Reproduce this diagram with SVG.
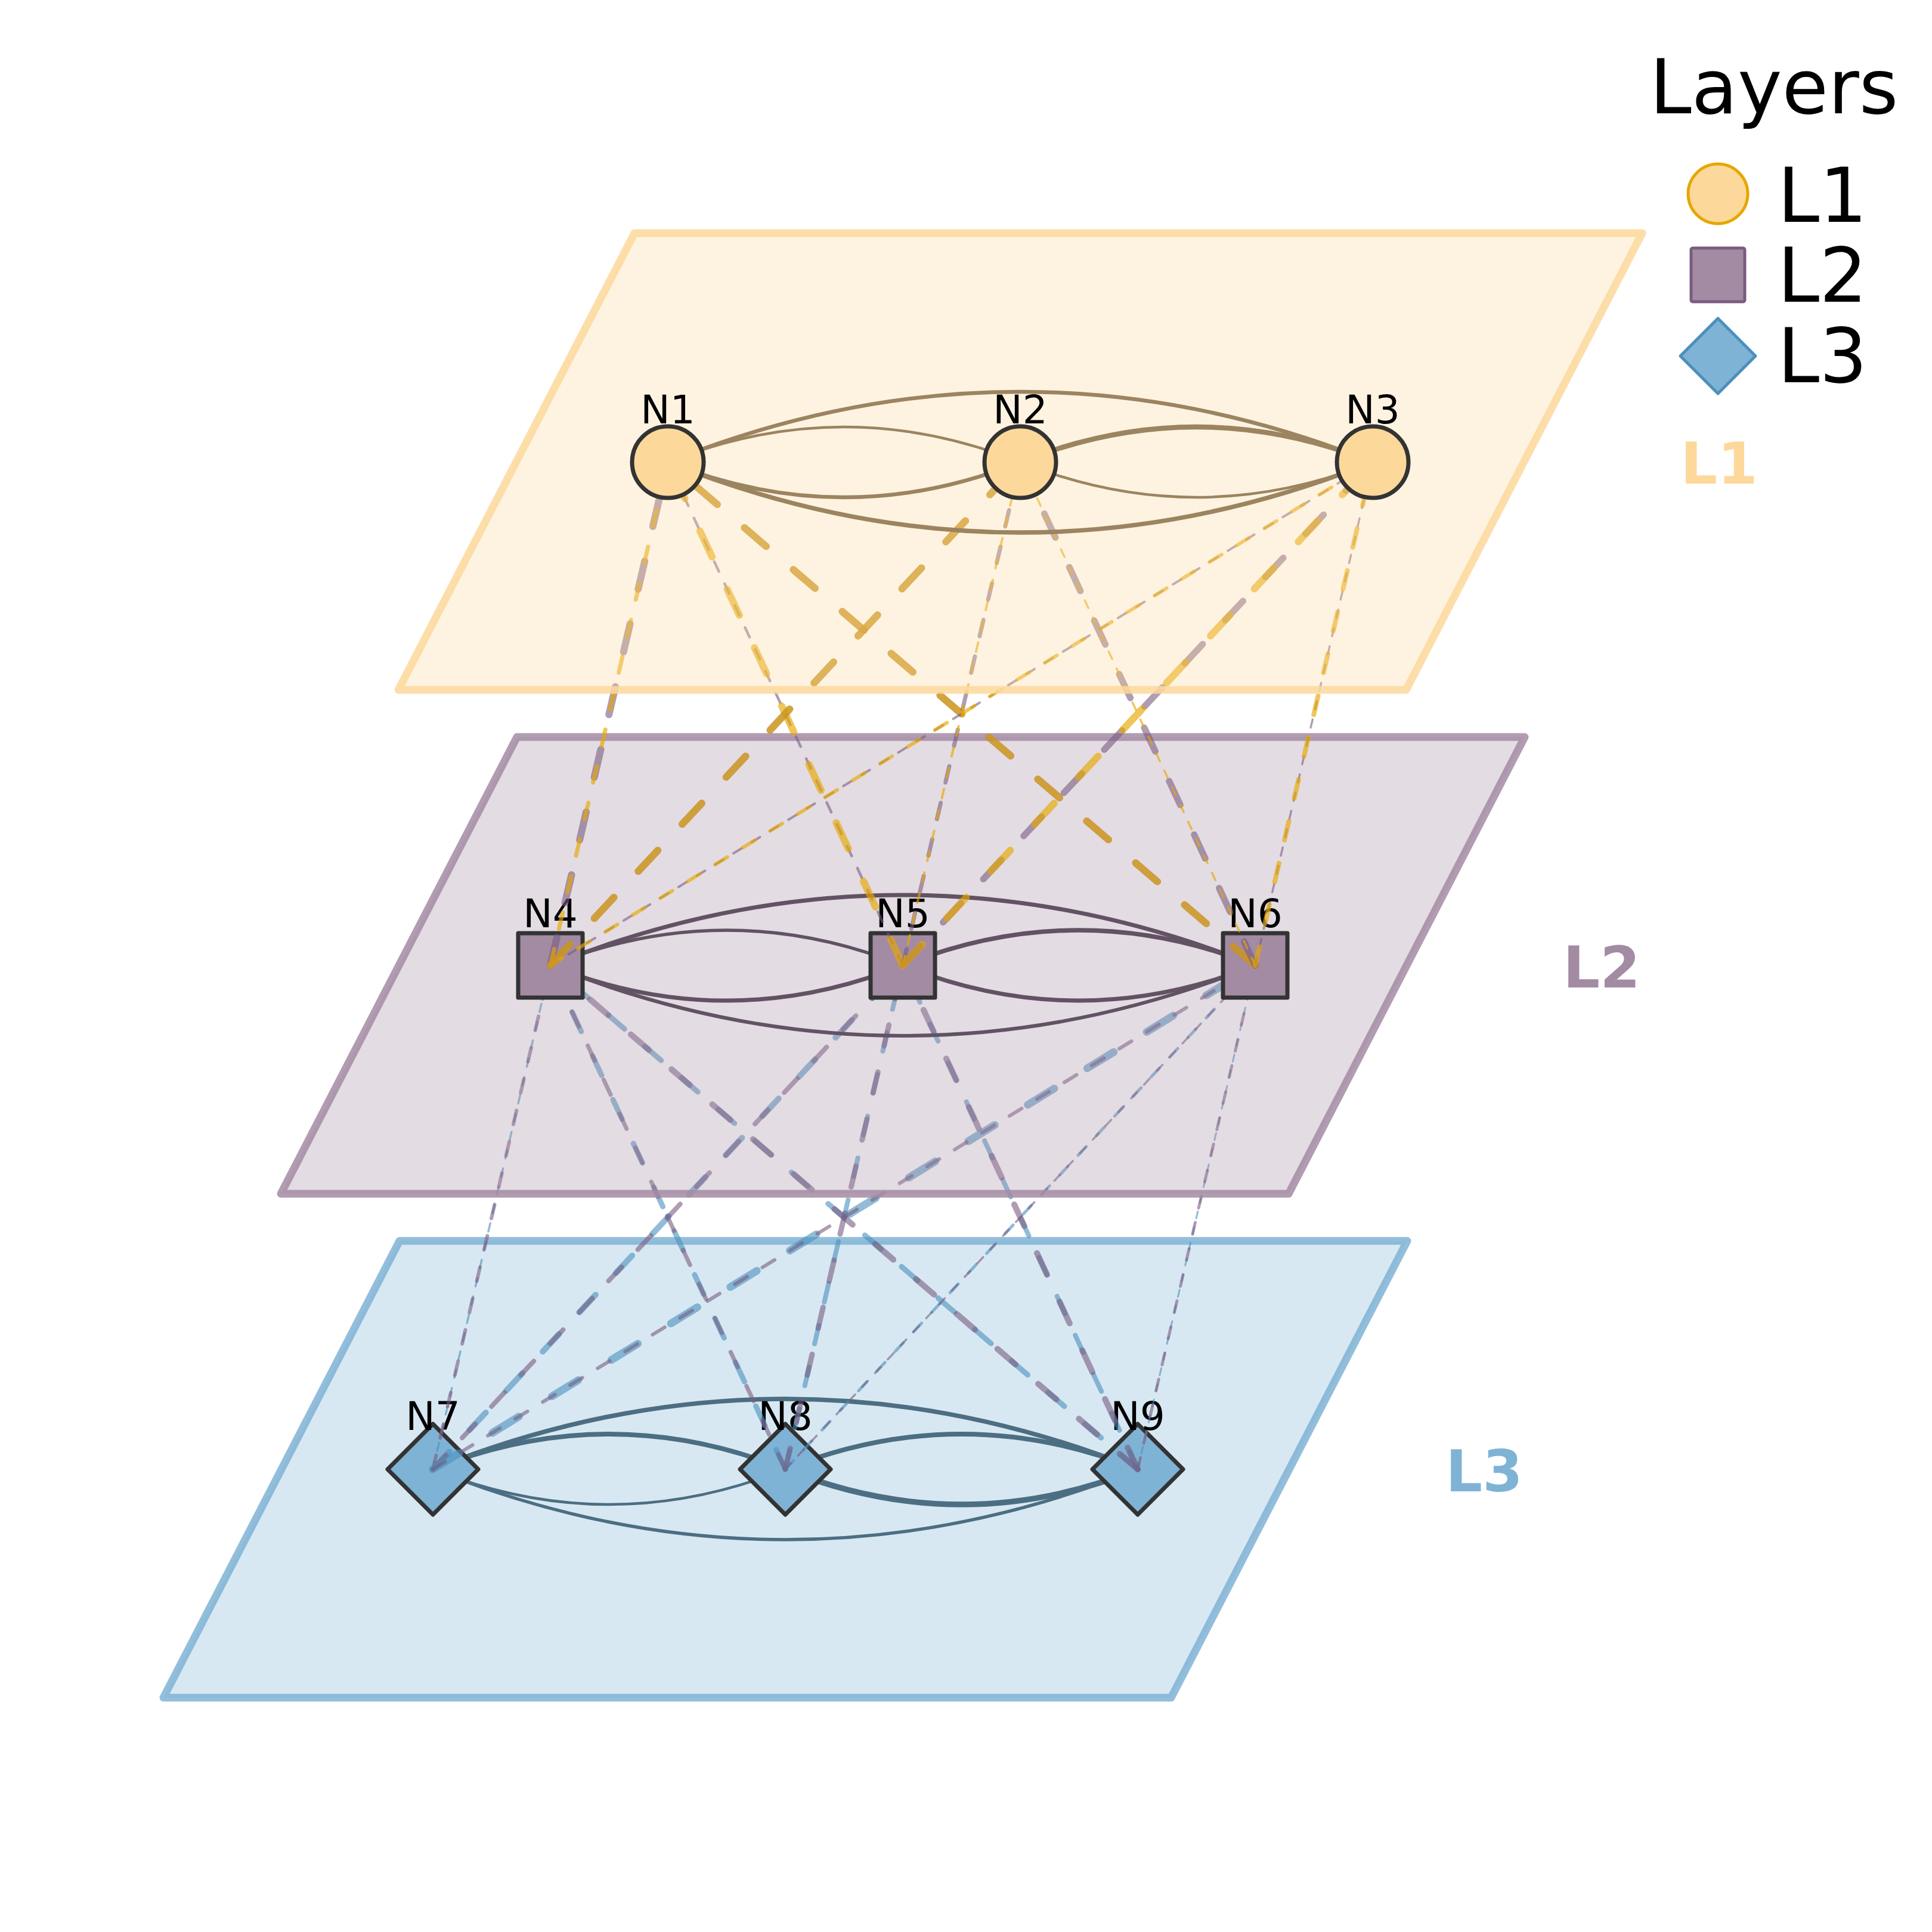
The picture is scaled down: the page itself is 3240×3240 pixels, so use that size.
<svg xmlns="http://www.w3.org/2000/svg" width="3240" height="3240" viewBox="0 0 3240 3240">
<style>
text{font-family:"DejaVu Sans","Liberation Sans",sans-serif}
.plane{stroke-width:13;stroke-linejoin:round;stroke-opacity:.85;fill-opacity:.3}
.p1{fill:#fdd89b;stroke:#fdd89b}
.p2{fill:#a38ba3;stroke:#a38ba3}
.p3{fill:#7fb3d5;stroke:#7fb3d5}
.arc{fill:none;stroke-linecap:round}
.a1{stroke:#9b845f}
.a2{stroke:#625263}
.a3{stroke:#4c6e82}
.dl{fill:none;stroke-linecap:round}
.o{stroke:#e6a700;stroke-opacity:.65}
.m{stroke:#7a5c80;stroke-opacity:.6}
.b{stroke:#4a90bc;stroke-opacity:.6}
.node{stroke:#333333;stroke-width:7;stroke-linejoin:round}
.n1{fill:#fdd89b}
.n2{fill:#a38ba3}
.n3{fill:#7fb3d5}
.nl{font-size:66px;text-anchor:middle;fill:#000}
.pl{font-size:97px;font-weight:bold;text-anchor:middle}
.lg{font-size:126px;fill:#000}
</style>
<rect width="3240" height="3240" fill="#ffffff"/>

<!-- Layer 3 -->
<polygon id="plane-L3" class="plane p3" points="670,2081 2360,2081 1964,2847 274,2847"/>
<g id="edges-L3">
<path class="arc a3" stroke-width="8" d="M726,2464 Q1021.5,2346 1317,2464"/>
<path class="arc a3" stroke-width="4.5" d="M726,2464 Q1021.5,2582 1317,2464"/>
<path class="arc a3" stroke-width="8" d="M1317,2464 Q1612.5,2346 1908,2464"/>
<path class="arc a3" stroke-width="9.5" d="M1317,2464 Q1612.5,2582 1908,2464"/>
<path class="arc a3" stroke-width="7.5" d="M726,2464 Q1317,2228 1908,2464"/>
<path class="arc a3" stroke-width="5.5" d="M726,2464 Q1317,2700 1908,2464"/>
</g>
<g id="N7"><polygon class="node n3" points="726,2388 802,2464 726,2540 650,2464"/><text class="nl" x="726" y="2398">N7</text></g>
<g id="N8"><polygon class="node n3" points="1317,2388 1393,2464 1317,2540 1241,2464"/><text class="nl" x="1317" y="2398">N8</text></g>
<g id="N9"><polygon class="node n3" points="1908,2388 1984,2464 1908,2540 1832,2464"/><text class="nl" x="1908" y="2398">N9</text></g>

<!-- L2-L3 inter-layer edges -->
<g id="edges-L2-L3">
<path class="dl b" stroke-width="3.5" stroke-dasharray="14 17.5" d="M726,2464 L923,1619"/>
<path class="dl m" stroke-width="6" stroke-dasharray="24 30" d="M726,2464 L923,1619"/>
<path class="dl b" stroke-width="9" stroke-dasharray="36 45" d="M1317,2464 L923,1619"/>
<path class="dl m" stroke-width="7" stroke-dasharray="28 35" d="M1317,2464 L923,1619"/>
<path class="dl b" stroke-width="9" stroke-dasharray="36 45" d="M1908,2464 L923,1619"/>
<path class="dl m" stroke-width="10" stroke-dasharray="40 50" d="M1908,2464 L923,1619"/>
<path class="dl b" stroke-width="10" stroke-dasharray="40 50" d="M726,2464 L1514,1619"/>
<path class="dl m" stroke-width="8" stroke-dasharray="32 40" d="M726,2464 L1514,1619"/>
<path class="dl b" stroke-width="8" stroke-dasharray="32 40" d="M1317,2464 L1514,1619"/>
<path class="dl m" stroke-width="9" stroke-dasharray="36 45" d="M1317,2464 L1514,1619"/>
<path class="dl b" stroke-width="8" stroke-dasharray="32 40" d="M1908,2464 L1514,1619"/>
<path class="dl m" stroke-width="10" stroke-dasharray="40 50" d="M1908,2464 L1514,1619"/>
<path class="dl b" stroke-width="13" stroke-dasharray="52 65" d="M726,2464 L2105,1619"/>
<path class="dl m" stroke-width="6" stroke-dasharray="24 30" d="M726,2464 L2105,1619"/>
<path class="dl b" stroke-width="5" stroke-dasharray="20 25" d="M1317,2464 L2105,1619"/>
<path class="dl m" stroke-width="3.5" stroke-dasharray="14 17.5" d="M1317,2464 L2105,1619"/>
<path class="dl b" stroke-width="3" stroke-dasharray="12 15" d="M1908,2464 L2105,1619"/>
<path class="dl m" stroke-width="5" stroke-dasharray="20 25" d="M1908,2464 L2105,1619"/>
</g>

<!-- Layer 2 -->
<polygon id="plane-L2" class="plane p2" points="867,1236 2557,1236 2161,2002 471,2002"/>
<g id="edges-L2">
<path class="arc a2" stroke-width="5.5" d="M923,1619 Q1218.5,1501 1514,1619"/>
<path class="arc a2" stroke-width="7" d="M923,1619 Q1218.5,1737 1514,1619"/>
<path class="arc a2" stroke-width="7.5" d="M1514,1619 Q1809.5,1501 2105,1619"/>
<path class="arc a2" stroke-width="7" d="M1514,1619 Q1809.5,1737 2105,1619"/>
<path class="arc a2" stroke-width="7" d="M923,1619 Q1514,1383 2105,1619"/>
<path class="arc a2" stroke-width="6" d="M923,1619 Q1514,1855 2105,1619"/>
</g>
<g id="N4"><rect class="node n2" x="869" y="1565" width="108" height="108"/><text class="nl" x="923" y="1555">N4</text></g>
<g id="N5"><rect class="node n2" x="1460" y="1565" width="108" height="108"/><text class="nl" x="1514" y="1555">N5</text></g>
<g id="N6"><rect class="node n2" x="2051" y="1565" width="108" height="108"/><text class="nl" x="2105" y="1555">N6</text></g>

<!-- L1-L2 inter-layer edges -->
<g id="edges-L1-L2">
<path class="dl m" stroke-width="12" stroke-dasharray="48 60" d="M923,1619 L1120,775"/>
<path class="dl o" stroke-width="7" stroke-dasharray="28 35" d="M923,1619 L1120,775"/>
<path class="dl m" stroke-width="4.5" stroke-dasharray="18 22.5" d="M1514,1619 L1120,775"/>
<path class="dl o" stroke-width="12" stroke-dasharray="48 60" d="M1514,1619 L1120,775"/>
<path class="dl m" stroke-width="12" stroke-dasharray="48 60" d="M2105,1619 L1120,775"/>
<path class="dl o" stroke-width="12" stroke-dasharray="48 60" d="M2105,1619 L1120,775"/>
<path class="dl m" stroke-width="12" stroke-dasharray="48 60" d="M923,1619 L1711,775"/>
<path class="dl o" stroke-width="12" stroke-dasharray="48 60" d="M923,1619 L1711,775"/>
<path class="dl m" stroke-width="7" stroke-dasharray="28 35" d="M1514,1619 L1711,775"/>
<path class="dl o" stroke-width="4" stroke-dasharray="16 20" d="M1514,1619 L1711,775"/>
<path class="dl m" stroke-width="11" stroke-dasharray="44 55" d="M2105,1619 L1711,775"/>
<path class="dl o" stroke-width="3.5" stroke-dasharray="14 17.5" d="M2105,1619 L1711,775"/>
<path class="dl m" stroke-width="4" stroke-dasharray="16 20" d="M923,1619 L2302,775"/>
<path class="dl o" stroke-width="6" stroke-dasharray="24 30" d="M923,1619 L2302,775"/>
<path class="dl m" stroke-width="11" stroke-dasharray="44 55" d="M1514,1619 L2302,775"/>
<path class="dl o" stroke-width="12" stroke-dasharray="48 60" d="M1514,1619 L2302,775"/>
<path class="dl m" stroke-width="3.5" stroke-dasharray="14 17.5" d="M2105,1619 L2302,775"/>
<path class="dl o" stroke-width="8" stroke-dasharray="32 40" d="M2105,1619 L2302,775"/>
</g>

<!-- Layer 1 -->
<polygon id="plane-L1" class="plane p1" points="1064,391 2754,391 2358,1157 668,1157"/>
<g id="edges-L1">
<path class="arc a1" stroke-width="4.5" d="M1120,775 Q1415.5,657 1711,775"/>
<path class="arc a1" stroke-width="6.5" d="M1120,775 Q1415.5,893 1711,775"/>
<path class="arc a1" stroke-width="8.5" d="M1711,775 Q2006.5,657 2302,775"/>
<path class="arc a1" stroke-width="4.5" d="M1711,775 Q2006.5,893 2302,775"/>
<path class="arc a1" stroke-width="6.5" d="M1120,775 Q1711,539 2302,775"/>
<path class="arc a1" stroke-width="7.5" d="M1120,775 Q1711,1011 2302,775"/>
</g>
<g id="N1"><circle class="node n1" cx="1120" cy="775" r="60"/><text class="nl" x="1120" y="710">N1</text></g>
<g id="N2"><circle class="node n1" cx="1711" cy="775" r="60"/><text class="nl" x="1711" y="710">N2</text></g>
<g id="N3"><circle class="node n1" cx="2302" cy="775" r="60"/><text class="nl" x="2302" y="710">N3</text></g>

<!-- plane labels -->
<g id="plane-labels">
<text class="pl" x="2883" y="811" fill="#fdd89b">L1</text>
<text class="pl" x="2686" y="1656" fill="#a38ba3">L2</text>
<text class="pl" x="2489" y="2501" fill="#7fb3d5">L3</text>
</g>

<!-- legend -->
<g id="legend">
<text class="lg" x="2975" y="190" text-anchor="middle">Layers</text>
<circle cx="2881" cy="325" r="50" fill="#fdd89b" stroke="#e6a700" stroke-width="5"/>
<text class="lg" x="2981" y="372">L1</text>
<rect x="2836" y="416" width="90" height="90" rx="3" fill="#a38ba3" stroke="#7a5c80" stroke-width="5"/>
<text class="lg" x="2981" y="506">L2</text>
<polygon points="2881,534 2944,597 2881,660 2818,597" fill="#7fb3d5" stroke="#4a90bc" stroke-width="5" stroke-linejoin="round"/>
<text class="lg" x="2981" y="641">L3</text>
</g>
</svg>
